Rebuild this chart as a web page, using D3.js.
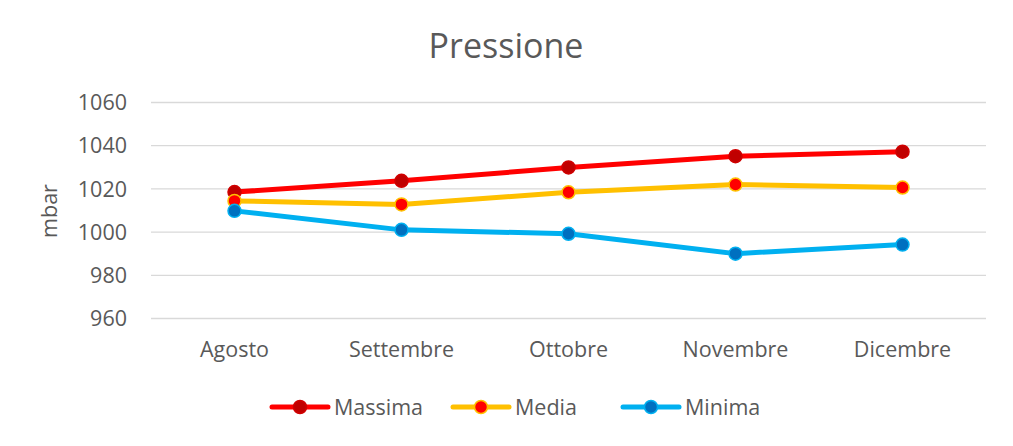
<!DOCTYPE html>
<html><head><meta charset="utf-8">
<script src="https://cdn.jsdelivr.net/npm/d3@7"></script>
<style>body{margin:0;background:#fff}svg{display:block}text{font-family:"Open Sans",sans-serif;fill:#595959}</style>
</head><body><svg id="c" width="1013" height="446"></svg>
<script>
const categories = ["Agosto","Settembre","Ottobre","Novembre","Dicembre"];
const massima = [1018.3, 1023.5, 1029.7, 1034.9, 1037.0];
const media = [1014.2, 1012.6, 1018.2, 1021.8, 1020.4];
const minima = [1009.6, 1000.8, 999.0, 989.8, 994.0];
const yTicks = [960, 980, 1000, 1020, 1040, 1060];
const seriesNames = ["Massima","Media","Minima"];

const series = [
  {name: seriesNames[0], values: massima, line: "#FF0000", fill: "#C00000", stroke: "#D00000"},
  {name: seriesNames[1], values: media, line: "#FFC000", fill: "#FF0000", stroke: "#FFC000"},
  {name: seriesNames[2], values: minima, line: "#00B0F0", fill: "#0070C0", stroke: "#00B0F0"}
];

const svg = d3.select("#c");
const L = 151, R = 986, T = 102, B = 318;
const x = d3.scaleBand().domain(categories).range([L, R]);
const y = d3.scaleLinear().domain([960, 1060]).range([B, T]);

svg.append("text").attr("x", 506).attr("y", 58).attr("text-anchor", "middle")
  .style("font-size", "34px").text("Pressione");

const gy = svg.append("g").attr("transform", `translate(${L},0)`)
  .call(d3.axisLeft(y).tickValues(yTicks).tickSize(-(R - L)).tickPadding(24).tickFormat(d3.format("d")));
gy.select(".domain").remove();
gy.selectAll(".tick line").attr("stroke", "#D9D9D9").attr("stroke-width", 1.3);
gy.selectAll(".tick text").style("font-size", "21.5px").attr("fill", "#595959").attr("dy", "0.36em");

const gx = svg.append("g").attr("transform", `translate(0,${B})`)
  .call(d3.axisBottom(x).tickSize(0).tickPadding(0));
gx.select(".domain").remove();
gx.selectAll(".tick text").style("font-size", "21.5px").attr("fill", "#595959").attr("y", 39).attr("dy", null);

svg.append("text").attr("transform", `translate(57,${(T + B) / 2 + 1}) rotate(-90)`)
  .attr("text-anchor", "middle").style("font-size", "21.5px").text("mbar");

const line = d3.line().x((d, i) => x(categories[i]) + x.bandwidth() / 2).y(d => y(d));
series.forEach(s => {
  svg.append("path").attr("d", line(s.values)).attr("fill", "none")
    .attr("stroke", s.line).attr("stroke-width", 5).attr("stroke-linejoin", "round");
  svg.selectAll(null).data(s.values).enter().append("circle")
    .attr("cx", (d, i) => x(categories[i]) + x.bandwidth() / 2).attr("cy", d => y(d))
    .attr("r", 6.5).attr("fill", s.fill).attr("stroke", s.stroke).attr("stroke-width", 1.5);
});

const legX = [272, 453, 623];
const legY = 407;
series.forEach((s, i) => {
  const g = svg.append("g").attr("transform", `translate(${legX[i]},${legY})`);
  g.append("line").attr("x1", 0).attr("x2", 56).attr("stroke", s.line).attr("stroke-width", 5).attr("stroke-linecap", "round");
  g.append("circle").attr("cx", 28).attr("r", 6.5).attr("fill", s.fill).attr("stroke", s.stroke).attr("stroke-width", 1.5);
  g.append("text").attr("x", 62).attr("dy", "0.36em").style("font-size", "21.5px").text(s.name);
});
</script></body></html>
